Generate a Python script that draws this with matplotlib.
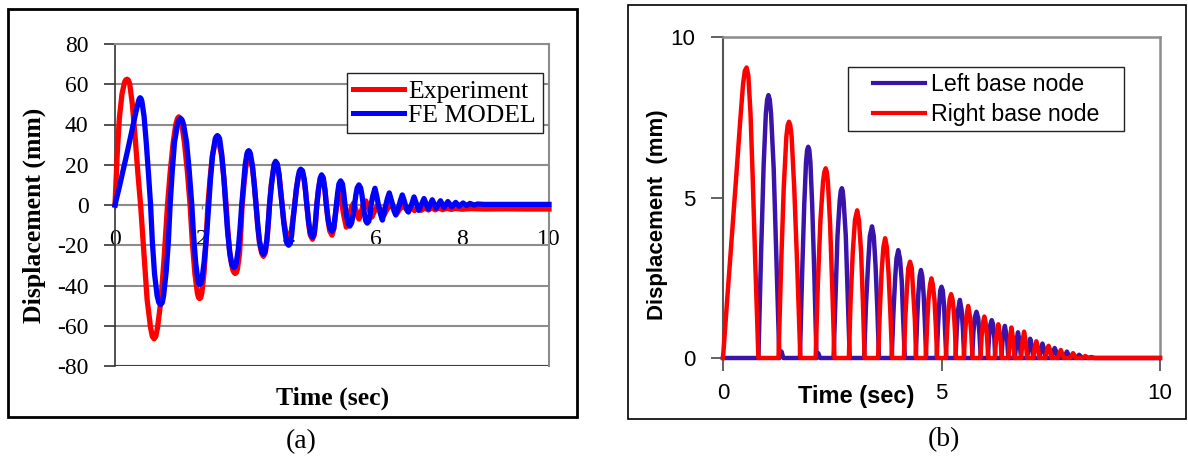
import numpy as np
import matplotlib
matplotlib.use('Agg')
import matplotlib.pyplot as plt
from matplotlib.patches import Rectangle

plt.rcParams['axes.unicode_minus'] = False

W, H = 1188, 457

# ---- (a) data: (time sec, displacement mm)
experiment_pts = [
    (0, 0), (0.05, 25), (0.10, 43), (0.16, 55), (0.22, 61), (0.25, 62.2), (0.28, 62.5), (0.31, 62.0),
    (0.34, 60), (0.40, 50), (0.47, 32), (0.53, 15), (0.59, 0),
    (0.67, -25), (0.74, -47), (0.82, -61), (0.86, -65.3), (0.90, -66.5), (0.94, -65.3), (0.98, -61),
    (1.06, -47), (1.13, -27), (1.21, 0),
    (1.27, 16), (1.34, 31), (1.40, 40), (1.44, 43.0), (1.47, 43.8), (1.51, 43.0), (1.54, 40), (1.60, 31),
    (1.67, 16), (1.73, 0),
    (1.78, -18), (1.84, -34), (1.90, -44), (1.925, -46.0), (1.95, -46.5), (1.975, -46.0), (2.00, -44),
    (2.05, -34), (2.10, -18), (2.14, 0),
    (2.19, 13), (2.24, 24), (2.30, 30.5), (2.325, 31.6), (2.35, 32), (2.375, 31.6), (2.40, 30.5),
    (2.46, 24), (2.51, 13), (2.56, 0),
    (2.60, -13), (2.65, -25), (2.71, -32), (2.745, -33.6), (2.77, -34), (2.795, -33.6), (2.82, -32),
    (2.87, -24), (2.90, -13), (2.93, 0),
    (2.97, 10), (3.01, 18), (3.05, 23.5), (3.08, 25), (3.12, 23.5), (3.17, 18), (3.21, 10), (3.25, 0),
    (3.29, -11), (3.33, -19), (3.38, -24), (3.42, -25.5), (3.46, -24), (3.50, -18), (3.53, -10), (3.56, 0),
    (3.60, 10), (3.64, 16), (3.67, 20), (3.70, 21), (3.74, 19.5), (3.78, 15), (3.81, 9), (3.85, 0),
    (3.89, -8), (3.93, -13), (3.96, -16), (3.99, -17), (4.03, -16), (4.07, -12), (4.10, -7), (4.14, 0),
    (4.18, 8), (4.22, 13), (4.25, 16), (4.28, 17), (4.32, 16), (4.36, 12), (4.39, 7), (4.42, 0),
    (4.46, -9), (4.50, -15), (4.55, -17), (4.59, -15), (4.62, -9), (4.65, 0),
    (4.69, 8), (4.73, 13), (4.76, 14), (4.80, 12.5), (4.84, 7), (4.87, 0),
    (4.91, -8), (4.95, -13), (5.00, -15), (5.04, -12), (5.08, -5),
    (5.12, 2), (5.17, 6), (5.21, 3), (5.27, -5), (5.33, -11), (5.39, -6), (5.45, -1),
    (5.50, 1), (5.56, -3), (5.62, -7), (5.68, -3), (5.73, 1), (5.78, 2), (5.85, -2),
    (5.92, -6), (5.98, -3), (6.05, 0), (6.12, -2), (6.20, -5), (6.27, -2), (6.35, 0),
    (6.43, -2), (6.50, -4), (6.58, -1.5), (6.66, -0.5), (6.74, -3), (6.82, -1), (6.90, -2.8),
    (6.98, -1.2), (7.06, -2.6), (7.14, -1.3), (7.22, -2.5), (7.30, -1.4), (7.38, -2.4),
    (7.46, -1.5), (7.55, -2.3), (7.65, -1.6), (7.75, -2.2), (7.85, -1.7), (8.0, -2.1),
    (8.2, -1.8), (8.5, -2.0), (9.0, -1.9), (9.5, -2.0), (10, -2.0),
]
fe_model_pts = [
    (0, 0), (0.1, 9), (0.2, 18.5), (0.3, 28), (0.4, 38), (0.48, 46), (0.54, 51.5), (0.56, 52.8),
    (0.58, 53.3), (0.60, 52.8), (0.62, 51.5), (0.67, 44), (0.72, 31), (0.77, 16), (0.82, 0),
    (0.86, -18), (0.91, -34), (0.97, -45), (1.01, -48.5), (1.05, -49.5), (1.09, -48.5), (1.12, -45),
    (1.18, -33), (1.23, -18), (1.27, 0),
    (1.32, 17), (1.37, 31), (1.44, 40), (1.475, 42.3), (1.51, 43), (1.545, 42.3), (1.58, 40), (1.65, 31),
    (1.71, 17), (1.77, 0),
    (1.81, -15), (1.86, -29), (1.91, -37.5), (1.93, -39), (1.95, -39.5), (1.975, -39), (2.00, -37.5),
    (2.05, -29), (2.11, -15), (2.16, 0),
    (2.20, 13), (2.25, 25), (2.31, 33), (2.335, 34), (2.36, 34.5), (2.385, 34), (2.41, 33), (2.46, 25),
    (2.51, 13), (2.55, 0),
    (2.59, -12), (2.64, -23), (2.69, -29.5), (2.715, -30.6), (2.74, -31), (2.765, -30.6), (2.79, -29.5),
    (2.84, -22), (2.88, -12), (2.92, 0),
    (2.96, 10), (3.00, 20), (3.04, 25.5), (3.06, 26.6), (3.08, 27), (3.10, 26.6), (3.12, 25.5),
    (3.17, 19), (3.21, 10), (3.25, 0),
    (3.29, -10), (3.33, -18), (3.38, -23), (3.42, -24.5), (3.46, -23), (3.50, -17), (3.53, -9), (3.56, 0),
    (3.60, 9), (3.64, 16), (3.67, 20.5), (3.70, 21.7), (3.74, 20.5), (3.78, 15), (3.81, 8), (3.85, 0),
    (3.89, -9), (3.93, -15.5), (3.96, -19), (4.00, -20), (4.04, -19), (4.07, -15), (4.10, -8), (4.14, 0),
    (4.18, 8), (4.22, 14), (4.25, 17), (4.28, 17.8), (4.32, 17), (4.36, 13), (4.39, 7), (4.42, 0),
    (4.46, -8), (4.50, -14), (4.55, -16), (4.59, -14), (4.62, -8), (4.65, 0),
    (4.69, 8), (4.73, 13.5), (4.76, 15), (4.80, 13.5), (4.84, 7), (4.87, 0),
    (4.91, -7), (4.95, -11.5), (5.00, -13), (5.04, -11.5), (5.07, -6), (5.10, 0),
    (5.13, 6), (5.16, 10.5), (5.20, 12), (5.24, 10.5), (5.27, 6), (5.30, 0),
    (5.34, -6), (5.37, -9), (5.41, -10.5), (5.45, -9), (5.49, -5), (5.52, 0),
    (5.55, 5), (5.58, 8.5), (5.62, 10), (5.66, 8.5), (5.69, 5), (5.72, 0),
    (5.75, -5), (5.78, -8), (5.81, -9), (5.85, -8), (5.88, -4.5), (5.90, 0),
    (5.94, 4.5), (5.99, 8.3), (6.03, 4.5), (6.07, 0), (6.11, -4), (6.16, -7.5), (6.20, -4), (6.24, 0),
    (6.28, 3.5), (6.32, 6), (6.36, 3), (6.40, 0), (6.43, -3), (6.47, -5), (6.51, -2.5), (6.55, 0),
    (6.58, 2.5), (6.62, 5), (6.66, 2.5), (6.69, 0), (6.72, -2), (6.76, -3.5), (6.80, -1.5), (6.83, 0),
    (6.89, 4), (7.00, -2.7), (7.12, 3.2), (7.22, -2), (7.31, 2.6), (7.40, -1.6), (7.50, 2.1),
    (7.58, -1.2), (7.67, 1.7), (7.76, -0.9), (7.85, 1.3), (7.93, -0.6), (8.02, 1.0), (8.10, -0.3),
    (8.18, 0.8), (8.27, 0), (8.36, 0.5), (8.5, 0.3), (10, 0.3),
]
a_xticks = [0, 2, 4, 6, 8, 10]
a_yticks = [-80, -60, -40, -20, 0, 20, 40, 60, 80]

# ---- (b) data
left_node_pts = [
    (0, 0), (0.81, 0),
    (0.87, 3.2), (0.93, 6.0), (0.98, 7.6), (1.01, 8.05), (1.04, 8.19), (1.07, 8.05), (1.10, 7.6),
    (1.16, 5.9), (1.22, 3.2), (1.29, 0),
    (1.34, 0.2), (1.38, 0), (1.76, 0),
    (1.81, 2.6), (1.86, 4.8), (1.90, 6.1), (1.925, 6.48), (1.95, 6.58), (1.975, 6.48), (2.00, 6.1),
    (2.04, 4.8), (2.09, 2.6), (2.14, 0),
    (2.18, 0.15), (2.22, 0), (2.53, 0),
    (2.58, 2.1), (2.62, 3.8), (2.67, 4.9), (2.695, 5.2), (2.72, 5.29), (2.74, 5.2), (2.76, 4.9),
    (2.81, 3.8), (2.85, 2.1), (2.90, 0),
    (3.23, 0),
    (3.27, 1.6), (3.32, 2.9), (3.36, 3.8), (3.41, 4.1), (3.45, 3.8), (3.49, 2.9), (3.53, 1.6), (3.57, 0),
    (3.86, 0),
    (3.90, 1.4), (3.94, 2.5), (3.97, 3.1), (4.01, 3.36), (4.05, 3.1), (4.09, 2.4), (4.12, 1.3), (4.16, 0),
    (4.41, 0),
    (4.44, 1.1), (4.47, 2.0), (4.50, 2.55), (4.53, 2.74), (4.56, 2.55), (4.59, 2.0), (4.62, 1.1), (4.65, 0),
    (4.89, 0),
    (4.92, 1.0), (4.95, 1.7), (4.97, 2.1), (5.00, 2.22), (5.03, 2.1), (5.06, 1.6), (5.08, 0.9), (5.11, 0),
    (5.32, 0),
    (5.35, 0.9), (5.38, 1.5), (5.42, 1.81), (5.46, 1.5), (5.49, 0.9), (5.52, 0),
    (5.70, 0),
    (5.73, 0.8), (5.76, 1.25), (5.80, 1.44), (5.84, 1.25), (5.87, 0.7), (5.90, 0),
    (6.06, 0),
    (6.09, 0.7), (6.12, 1.05), (6.15, 1.18), (6.18, 1.05), (6.21, 0.6), (6.23, 0),
    (6.37, 0), (6.40, 0.6), (6.45, 1.0), (6.50, 0.6), (6.53, 0),
    (6.68, 0), (6.715, 0.52), (6.75, 0.80), (6.785, 0.52), (6.82, 0),
    (6.96, 0), (6.995, 0.39), (7.03, 0.60), (7.065, 0.39), (7.10, 0),
    (7.24, 0), (7.275, 0.29), (7.31, 0.45), (7.345, 0.29), (7.38, 0),
    (7.52, 0), (7.555, 0.2), (7.59, 0.31), (7.625, 0.2), (7.66, 0),
    (7.80, 0), (7.87, 0.20), (7.94, 0),
    (8.08, 0), (8.15, 0.10), (8.22, 0),
    (8.36, 0), (8.43, 0.03), (8.50, 0), (10, 0),
]
right_node_pts = [
    (0, 0), (0.1, 1.9), (0.2, 3.75), (0.3, 5.6), (0.4, 7.5), (0.46, 8.55), (0.50, 8.95), (0.54, 9.05),
    (0.58, 8.8), (0.63, 7.6), (0.68, 5.6), (0.74, 2.9), (0.81, 0),
    (1.27, 0),
    (1.33, 2.9), (1.39, 5.3), (1.45, 6.9), (1.48, 7.25), (1.51, 7.36), (1.54, 7.25), (1.57, 6.9),
    (1.63, 5.3), (1.70, 2.8), (1.77, 0),
    (2.12, 0),
    (2.17, 2.3), (2.23, 4.3), (2.29, 5.5), (2.32, 5.8), (2.35, 5.91), (2.375, 5.8), (2.40, 5.5),
    (2.45, 4.2), (2.50, 2.2), (2.55, 0),
    (2.88, 0),
    (2.92, 1.8), (2.97, 3.3), (3.02, 4.3), (3.07, 4.6), (3.11, 4.3), (3.16, 3.3), (3.20, 1.8), (3.24, 0),
    (3.55, 0),
    (3.59, 1.5), (3.63, 2.7), (3.67, 3.45), (3.71, 3.73), (3.75, 3.45), (3.79, 2.6), (3.83, 1.4), (3.87, 0),
    (4.14, 0),
    (4.17, 1.2), (4.21, 2.2), (4.24, 2.8), (4.28, 3.0), (4.32, 2.8), (4.35, 2.1), (4.39, 1.2), (4.42, 0),
    (4.64, 0),
    (4.67, 1.0), (4.70, 1.8), (4.74, 2.3), (4.77, 2.48), (4.80, 2.3), (4.84, 1.8), (4.87, 1.0), (4.90, 0),
    (5.10, 0),
    (5.13, 0.9), (5.16, 1.5), (5.19, 1.85), (5.22, 1.99), (5.25, 1.85), (5.28, 1.5), (5.31, 0.8), (5.33, 0),
    (5.51, 0),
    (5.54, 0.8), (5.57, 1.3), (5.61, 1.62), (5.65, 1.3), (5.68, 0.8), (5.71, 0),
    (5.89, 0),
    (5.92, 0.7), (5.95, 1.1), (5.98, 1.29), (6.01, 1.1), (6.04, 0.7), (6.07, 0),
    (6.22, 0), (6.25, 0.6), (6.30, 1.05), (6.35, 0.6), (6.38, 0),
    (6.53, 0), (6.565, 0.62), (6.60, 0.95), (6.635, 0.62), (6.67, 0),
    (6.82, 0), (6.855, 0.53), (6.89, 0.82), (6.925, 0.53), (6.96, 0),
    (7.10, 0), (7.135, 0.34), (7.17, 0.52), (7.205, 0.34), (7.24, 0),
    (7.38, 0), (7.415, 0.25), (7.45, 0.38), (7.485, 0.25), (7.52, 0),
    (7.66, 0), (7.73, 0.25), (7.80, 0),
    (7.94, 0), (8.01, 0.15), (8.08, 0),
    (8.22, 0), (8.29, 0.06), (8.36, 0), (10, 0),
]
b_xticks = [0, 5, 10]
b_yticks = [0, 5, 10]

SERIF = 'Liberation Serif'
SANS = 'Liberation Sans'


def box(x0, y0, x1, y1):
    # pixel box (top-left origin) -> figure fraction rect
    return [x0 / W, 1 - y1 / H, (x1 - x0) / W, (y1 - y0) / H]


fig = plt.figure(figsize=(W / 100, H / 100), dpi=100)

# ================= (a)
ax1 = fig.add_axes(box(115, 44, 549, 366))
t, v = np.array(experiment_pts).T
ax1.plot(t, v, color='#ff0000', lw=3.8, label='Experiment', clip_on=False, zorder=3)
t, v = np.array(fe_model_pts).T
ax1.plot(t, v, color='#0000ff', lw=3.8, label='FE MODEL', clip_on=False, zorder=3)
ax1.set_xlim(0, 10)
ax1.set_ylim(-80, 80)
ax1.set_xticks(a_xticks)
ax1.set_yticks(a_yticks)
ax1.yaxis.grid(True, color='#8c8c8c', lw=1.5)
ax1.set_axisbelow(True)
ax1.axhline(-80, color='#404040', lw=1.5, zorder=1)
ax1.spines['left'].set_color('#333333')
ax1.spines['left'].set_linewidth(1.2)
ax1.spines['right'].set_color('#8c8c8c')
ax1.spines['right'].set_linewidth(1.5)
ax1.spines['top'].set_color('#8c8c8c')
ax1.spines['top'].set_linewidth(1.5)
ax1.spines['bottom'].set_position(('data', 0))
ax1.spines['bottom'].set_color('#8c8c8c')
ax1.spines['bottom'].set_linewidth(1.5)
ax1.tick_params(axis='y', direction='out', length=8, width=1.2, color='#333333', pad=11, labelsize=17)
ax1.tick_params(axis='x', direction='out', length=3, width=1, color='#8c8c8c', pad=14, labelsize=17)
for lab in ax1.get_xticklabels() + ax1.get_yticklabels():
    lab.set_fontfamily(SERIF)

leg1 = ax1.legend(loc='center left', bbox_to_anchor=(353 / W, 1 - 103.5 / H),
                  bbox_transform=fig.transFigure, frameon=False, borderpad=0, borderaxespad=0,
                  handlelength=2.0, handletextpad=0.15, labelspacing=0.05,
                  prop={'family': SERIF, 'size': 18.5})
for ln in leg1.get_lines():
    ln.set_linewidth(3.6)
leg1.set_zorder(6)
r = Rectangle((347 / W, 1 - 133 / H), (543 - 347) / W, (133 - 73) / H, transform=fig.transFigure,
              facecolor='white', edgecolor='#222222', lw=1.0, zorder=5, clip_on=False)
ax1.add_artist(r)

fig.text(34 / W, 1 - 215 / H, 'Displacement (mm)', rotation=90, ha='center', va='center',
         family=SERIF, weight='bold', size=18.5)
fig.text(333 / W, 1 - 398 / H, 'Time (sec)', ha='center', va='center',
         family=SERIF, weight='bold', size=18.5)
fig.text(301 / W, 1 - 442 / H, '(a)', ha='center', va='center', family=SERIF, size=20)
fig.add_artist(Rectangle((8 / W, 1 - 417 / H), (577 - 8) / W, (417 - 9) / H, transform=fig.transFigure,
                         fill=False, edgecolor='black', lw=2.0))

# ================= (b)
ax2 = fig.add_axes(box(723, 37, 1160, 358))
t, v = np.array(left_node_pts).T
ax2.plot(t, v, color='#3a13a8', lw=3.2, label='Left base node', clip_on=False, zorder=3)
t, v = np.array(right_node_pts).T
ax2.plot(t, v, color='#ff0000', lw=3.2, label='Right base node', clip_on=False, zorder=3)
ax2.set_xlim(0, 10)
ax2.set_ylim(0, 10)
ax2.set_xticks(b_xticks)
ax2.set_yticks(b_yticks)
for s in ['left', 'bottom']:
    ax2.spines[s].set_color('#555555')
    ax2.spines[s].set_linewidth(1.5)
for s in ['top', 'right']:
    ax2.spines[s].set_color('#8c8c8c')
    ax2.spines[s].set_linewidth(1.8)
ax2.tick_params(axis='y', direction='out', length=9, width=1.3, color='#555555', pad=11, labelsize=16)
ax2.tick_params(axis='x', direction='out', length=9, width=1.3, color='#555555', pad=9, labelsize=16)
for lab in ax2.get_xticklabels() + ax2.get_yticklabels():
    lab.set_fontfamily(SANS)

leg2 = ax2.legend(loc='center left', bbox_to_anchor=(873 / W, 1 - 99.5 / H),
                  bbox_transform=fig.transFigure, frameon=False, borderpad=0, borderaxespad=0,
                  handlelength=2.24, handletextpad=0.26, labelspacing=0.27,
                  prop={'family': SANS, 'size': 16.7})
for ln in leg2.get_lines():
    ln.set_linewidth(3.0)
leg2.set_zorder(6)
r = Rectangle((848 / W, 1 - 131 / H), (1124 - 848) / W, (131 - 67) / H, transform=fig.transFigure,
              facecolor='white', edgecolor='#222222', lw=1.0, zorder=5, clip_on=False)
ax2.add_artist(r)

fig.text(657 / W, 1 - 215 / H, 'Displacement  (mm)', rotation=90, ha='center', va='center',
         family=SANS, weight='bold', size=16)
fig.text(856 / W, 1 - 397 / H, 'Time (sec)', ha='center', va='center',
         family=SANS, weight='bold', size=17)
fig.text(944 / W, 1 - 440 / H, '(b)', ha='center', va='center', family=SERIF, size=20)
fig.add_artist(Rectangle((628 / W, 1 - 419 / H), (1186 - 628) / W, (419 - 5) / H, transform=fig.transFigure,
                         fill=False, edgecolor='black', lw=1.2))

fig.savefig('out.png', dpi=100)
